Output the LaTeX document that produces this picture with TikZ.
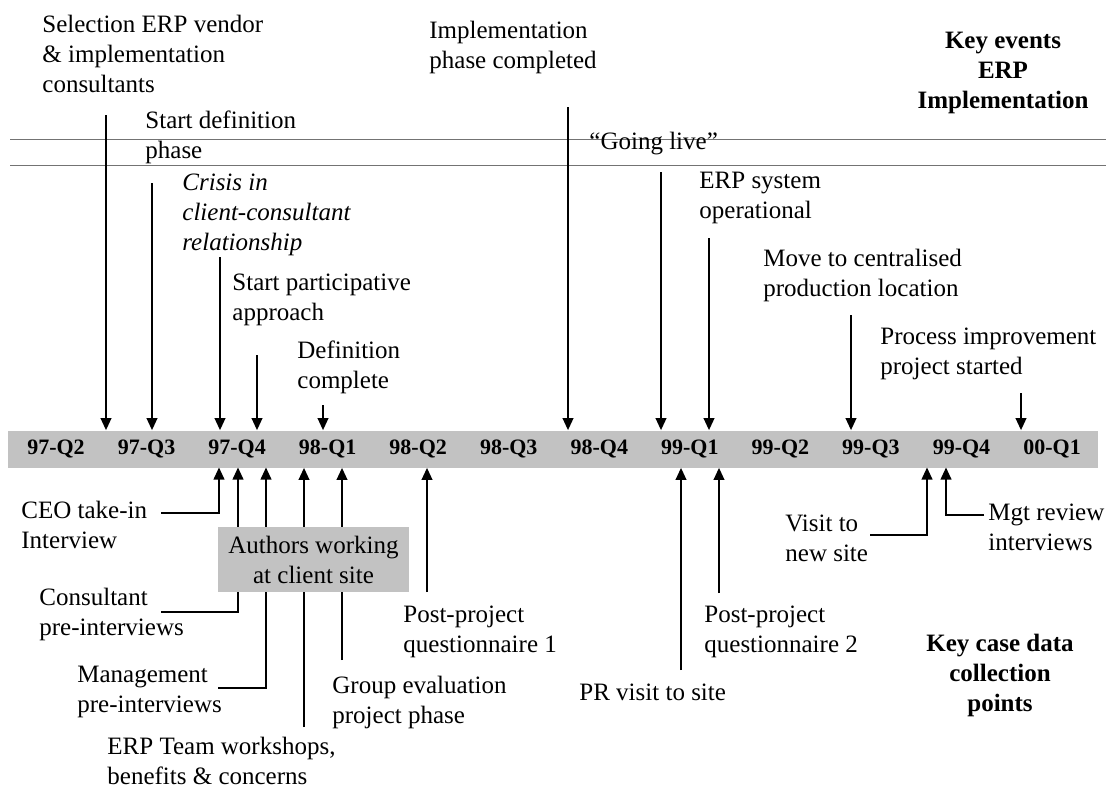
\documentclass[tikz,border=0pt]{standalone}
\usepackage{fontspec}
\setmainfont{Liberation Serif}
\usetikzlibrary{arrows.meta}

\begin{document}
\begin{tikzpicture}[x=0.5pt,y=-0.5pt,
  txt/.style={inner sep=0pt,align=left,anchor=west,font=\fontsize{12.5}{15}\selectfont},
  key/.style={inner sep=0pt,align=center,font=\fontsize{12.5}{15}\selectfont\bfseries},
  qlab/.style={inner sep=0pt,font=\fontsize{11}{13}\selectfont\bfseries},
  shade/.style={fill=black!24},
  rule/.style={draw=black!55,line width=0.5pt},
  tip/.style={line width=0.7pt,-{Triangle[length=6pt,width=5.4pt]}}]
  \useasboundingbox (0,0) rectangle (1106,793);

  \draw[rule] (10,139) -- (1106,139);
  \draw[rule] (10,165) -- (1106,165);

  \node[shade,inner sep=0pt,minimum width=545pt,minimum height=18.5pt] (bar) at (553,449) {};
  \foreach \q [count=\i from 0] in {97-Q2,97-Q3,97-Q4,98-Q1,98-Q2,98-Q3,98-Q4,99-Q1,99-Q2,99-Q3,99-Q4,00-Q1}
    \node[qlab] (q\i) at (56+90.55*\i,449) {\q};

  \node[txt] (selvend) at (42,54) {Selection ERP vendor\\\& implementation\\consultants};
  \node[txt] (startdef) at (145,137.5) {Start definition\\phase};
  \node[txt,font=\fontsize{12.5}{15}\selectfont\itshape] (crisis) at (182,215) {Crisis in\\client-consultant\\relationship};
  \node[txt] (startpart) at (232,300) {Start participative\\approach};
  \node[txt] (defcomp) at (297,367) {Definition\\complete};
  \node[txt] (implcomp) at (429,47) {Implementation\\phase completed};
  \node[txt] (golive) at (589,144) {“Going live”};
  \node[txt] (erpsys) at (699,198) {ERP system\\operational};
  \node[txt] (movecent) at (763,275) {Move to centralised\\production location};
  \node[txt] (procimp) at (880,354) {Process improvement\\project started};
  \node[key] (keyevt) at (1003,73) {Key events\\ERP\\Implementation};

  \coordinate (a-sel) at (106,115);
  \coordinate (a-def) at (152,183);
  \coordinate (a-cri) at (220,257);
  \coordinate (a-par) at (257,355);
  \coordinate (a-com) at (323,405);
  \coordinate (a-imp) at (568,107);
  \coordinate (a-liv) at (661,172);
  \coordinate (a-sys) at (709,238);
  \coordinate (a-mov) at (851,315);
  \coordinate (a-pro) at (1021,393);
  \foreach \n in {sel,def,cri,par,com,imp,liv,sys,mov,pro}
    \draw[tip] (a-\n) -- (a-\n |- bar.north);

  \node[txt] (ceo) at (21,525) {CEO take-in\\Interview};
  \node[txt] (cons) at (39,614) {Consultant\\pre-interviews};
  \node[txt] (mgmt) at (77,692) {Management\\pre-interviews};
  \node[txt] (erpteam) at (107,761) {ERP Team workshops,\\benefits \& concerns};
  \node[txt] (group) at (332,702) {Group evaluation\\project phase};
  \node[txt] (postq1) at (403,632) {Post-project\\questionnaire 1};
  \node[txt] (prvisit) at (579,692) {PR visit to site};
  \node[txt] (postq2) at (704,632) {Post-project\\questionnaire 2};
  \node[txt] (visit) at (785,538) {Visit to\\new site};
  \node[txt] (mgtrev) at (988,527) {Mgt review\\interviews};
  \node[key] (keycase) at (1000,675) {Key case data\\collection\\points};

  \coordinate (d-ceo) at (161,513);
  \coordinate (d-con) at (161,612);
  \coordinate (d-man) at (218,688);
  \coordinate (d-erp) at (304,727);
  \coordinate (d-grp) at (342,660);
  \coordinate (d-pq1) at (427,592);
  \coordinate (d-prv) at (681,670);
  \coordinate (d-pq2) at (719,593);
  \coordinate (d-vis) at (870,535);
  \coordinate (d-mgt) at (984,515);
  \coordinate (b-ceo) at (219,467.5);
  \coordinate (b-con) at (238,467.5);
  \coordinate (b-man) at (266,467.5);
  \coordinate (b-vis) at (927,467.5);
  \coordinate (b-mgt) at (946,467.5);
  \foreach \n in {ceo,con,man,vis,mgt}
    \draw[tip] (d-\n) -| (b-\n);
  \foreach \n in {erp,grp,pq1,prv,pq2}
    \draw[tip] (d-\n) -- (d-\n |- bar.south);

  \node[shade,inner sep=0pt,minimum width=95.5pt,minimum height=32.5pt,align=center,
    font=\fontsize{12.5}{15}\selectfont] (authors) at (313.5,559.5) {Authors working\\at client site};
\end{tikzpicture}
\end{document}
